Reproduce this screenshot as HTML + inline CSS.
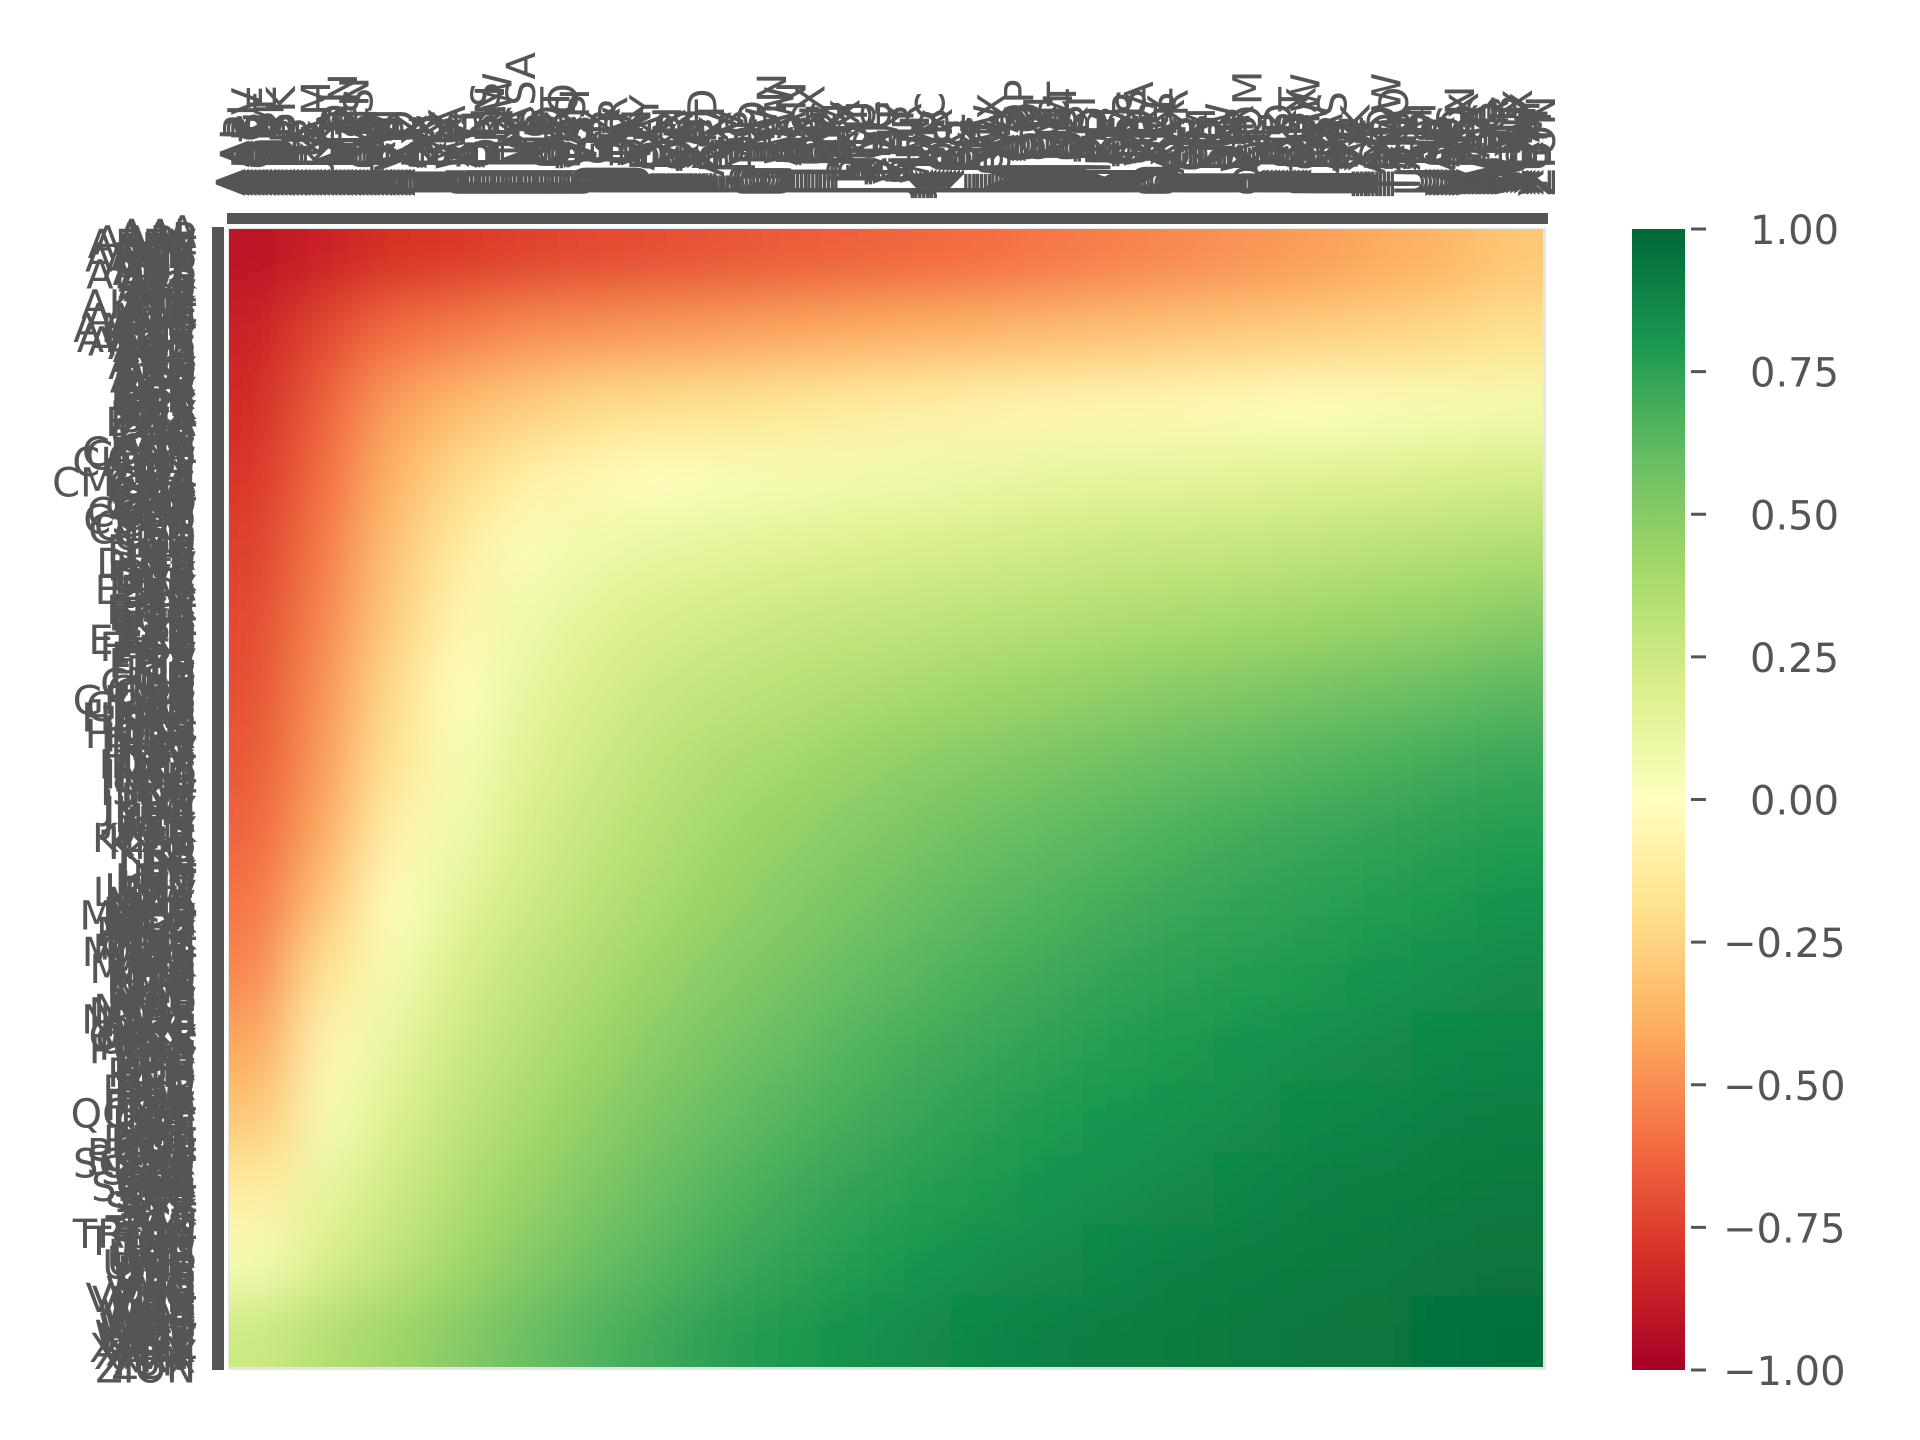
<!DOCTYPE html>
<html><head><meta charset="utf-8"><style>
html,body{margin:0;padding:0;background:#fff;}
svg{display:block;font-family:"DejaVu Sans","Liberation Sans",sans-serif;}
</style></head><body>
<svg id="chart" width="1920" height="1440" viewBox="0 0 1920 1440" xmlns="http://www.w3.org/2000/svg">
<defs>
<linearGradient id="cbgrad" x1="0" y1="1" x2="0" y2="0">
<stop offset="0" stop-color="#a50026"/><stop offset="0.1" stop-color="#d73027"/><stop offset="0.2" stop-color="#f46d43"/><stop offset="0.3" stop-color="#fdae61"/><stop offset="0.4" stop-color="#fee08b"/><stop offset="0.5" stop-color="#ffffbf"/><stop offset="0.6" stop-color="#d9ef8b"/><stop offset="0.7" stop-color="#a6d96a"/><stop offset="0.8" stop-color="#66bd63"/><stop offset="0.9" stop-color="#1a9850"/><stop offset="1" stop-color="#006837"/>
</linearGradient>
<clipPath id="hmclip"><rect x="229" y="229" width="1314" height="1138"/></clipPath>
<filter id="smooth" filterUnits="userSpaceOnUse" x="100" y="100" width="1600" height="1400"><feGaussianBlur stdDeviation="28"/></filter>
</defs>
<rect x="228" y="228" width="1318" height="1142" fill="#e6e6e6"/>
<g clip-path="url(#hmclip)"><g id="cells" filter="url(#smooth)"></g></g>
<rect x="227" y="213" width="1321" height="11" fill="#555"/>
<rect x="212" y="227" width="12" height="1143" fill="#555"/>
<g id="xlabels" fill="#555" font-size="40"></g>
<g id="ylabels" fill="#555" font-size="40"></g>
<rect x="1632" y="229" width="53" height="1141" fill="url(#cbgrad)"/>
<g id="cbticks" fill="#555" font-size="40"></g>
</svg>
<script>
const rowCount = 16;
const colCount = 20;
const values = [
[-0.9,-0.85,-0.8,-0.77,-0.74,-0.72,-0.7,-0.68,-0.66,-0.64,-0.62,-0.6,-0.57,-0.54,-0.51,-0.48,-0.45,-0.41,-0.37,-0.3],
[-0.85,-0.72,-0.6,-0.55,-0.5,-0.48,-0.46,-0.44,-0.42,-0.4,-0.38,-0.36,-0.34,-0.32,-0.3,-0.28,-0.26,-0.24,-0.22,-0.18],
[-0.82,-0.64,-0.45,-0.35,-0.28,-0.22,-0.2,-0.18,-0.15,-0.12,-0.1,-0.08,-0.06,-0.05,-0.04,-0.02,0,0.02,0.04,0.06],
[-0.78,-0.6,-0.38,-0.22,-0.1,-0.05,0,0.03,0.05,0.07,0.08,0.1,0.12,0.13,0.14,0.15,0.17,0.18,0.2,0.22],
[-0.75,-0.56,-0.32,-0.12,0.02,0.08,0.12,0.14,0.16,0.18,0.2,0.22,0.24,0.26,0.27,0.28,0.3,0.32,0.34,0.36],
[-0.72,-0.52,-0.28,-0.06,0.08,0.15,0.2,0.23,0.26,0.28,0.3,0.32,0.34,0.36,0.38,0.4,0.42,0.44,0.46,0.5],
[-0.7,-0.48,-0.22,0.0,0.12,0.2,0.26,0.3,0.33,0.36,0.39,0.42,0.44,0.47,0.5,0.52,0.55,0.57,0.6,0.63],
[-0.67,-0.45,-0.16,0.04,0.16,0.24,0.31,0.36,0.4,0.44,0.48,0.51,0.54,0.57,0.6,0.62,0.65,0.67,0.7,0.72],
[-0.63,-0.4,-0.08,0.08,0.2,0.28,0.35,0.41,0.46,0.5,0.54,0.58,0.61,0.64,0.67,0.7,0.72,0.74,0.76,0.78],
[-0.58,-0.3,0.0,0.14,0.24,0.32,0.39,0.45,0.5,0.55,0.59,0.63,0.66,0.69,0.72,0.74,0.76,0.78,0.8,0.82],
[-0.52,-0.15,0.06,0.2,0.3,0.37,0.44,0.5,0.55,0.6,0.64,0.68,0.71,0.74,0.76,0.78,0.8,0.82,0.84,0.86],
[-0.42,-0.05,0.12,0.25,0.34,0.42,0.49,0.55,0.6,0.65,0.69,0.72,0.75,0.78,0.8,0.82,0.84,0.86,0.87,0.88],
[-0.3,0.04,0.18,0.3,0.39,0.47,0.54,0.6,0.65,0.69,0.73,0.76,0.79,0.81,0.83,0.85,0.87,0.88,0.9,0.91],
[-0.12,0.12,0.24,0.35,0.44,0.52,0.59,0.65,0.7,0.74,0.77,0.8,0.82,0.84,0.86,0.88,0.9,0.91,0.92,0.93],
[0.05,0.2,0.3,0.41,0.5,0.58,0.64,0.7,0.74,0.78,0.81,0.84,0.86,0.88,0.9,0.91,0.92,0.93,0.94,0.95],
[0.25,0.35,0.42,0.5,0.58,0.65,0.71,0.76,0.8,0.83,0.86,0.88,0.9,0.91,0.92,0.93,0.94,0.95,0.96,0.97]
];
const tickers = ["A","AAL","AAP","AAPL","ABBV","ABC","ABT","ACN","ADBE","ADI","ADM","ADP","ADS","ADSK","AEE","AEP","AES","AFL","AIG","AIV","AIZ","AJG","AKAM","ALB","ALK","ALL","AMAT","AMD","AME","AMGN","AMP","AMT","AMZN","ANSS","AON","AOS","APA","APD","APH","ARE","ATVI","AVB","AVY","AXP","AZO","BA","BAC","BAX","BBY","BDX","BEN","BIIB","BK","BLK","BLL","BMY","BSX","BWA","BXP","C","CAG","CAH","CAT","CB","CCI","CCL","CDNS","CERN","CHD","CHRW","CI","CINF","CL","CLX","CMA","CMCSA","CME","CMI","CMS","CNC","CNP","COF","COO","COP","COST","CPB","CSCO","CSX","CTAS","CTSH","CVS","CVX","D","DD","DE","DGX","DHI","DHR","DIS","DLTR","DOV","DRI","DTE","DUK","DVA","DVN","EA","EBAY","ECL","ED","EFX","EIX","EL","EMN","EMR","EOG","EQR","ES","ESS","ETN","ETR","EXC","EXPD","F","FAST","FDX","FE","FFIV","FIS","FISV","FITB","FLS","FMC","GD","GE","GILD","GIS","GLW","GPC","GPS","GRMN","GS","GWW","HAL","HAS","HBAN","HD","HES","HIG","HOG","HOLX","HON","HPQ","HRL","HSIC","HST","HSY","HUM","IBM","IDXX","IFF","INCY","INTC","INTU","IP","IPG","IRM","ISRG","IT","ITW","IVZ","JBHT","JCI","JKHY","JNJ","JNPR","JPM","JWN","K","KEY","KIM","KLAC","KMB","KMX","KO","KR","KSS","L","LB","LEG","LEN","LH","LLY","LMT","LNC","LNT","LOW","LRCX","LUV","MA","MAA","MAR","MAS","MCD","MCHP","MCK","MCO","MDT","MET","MGM","MHK","MKC","MLM","MMC","MMM","MNST","MO","MOS","MRK","MS","MSFT","MSI","MTB","MTD","MU","NEE","NEM","NI","NKE","NOC","NOV","NSC","NTAP","NTRS","NUE","NVDA","NWL","O","OKE","OMC","ORCL","ORLY","OXY","PAYX","PCAR","PEG","PEP","PFE","PG","PGR","PH","PHM","PKG","PLD","PNC","PNR","PNW","PPG","PPL","PSA","PVH","PWR","PXD","QCOM","RCL","RE","REG","RF","RHI","RJF","RL","RMD","ROK","ROL","ROP","ROST","RSG","SBUX","SCHW","SEE","SHW","SJM","SLB","SLG","SNA","SNPS","SO","SPG","SRE","STT","STZ","SWK","SYK","SYY","T","TAP","TGT","TJX","TMO","TROW","TRV","TSCO","TSN","TXN","TXT","UDR","UHS","UNH","UNM","UNP","UPS","URI","USB","VAR","VFC","VLO","VMC","VNO","VRSN","VRTX","VTR","VZ","WAT","WBA","WDC","WEC","WFC","WHR","WM","WMB","WMT","WY","XEL","XLNX","XOM","XRAY","XRX","YUM","ZBH","ZION"];
const cbTicks = [-1,-0.75,-0.5,-0.25,0,0.25,0.5,0.75,1];
const cbLabels = ["\u22121.00","\u22120.75","\u22120.50","\u22120.25","0.00","0.25","0.50","0.75","1.00"];

const NS="http://www.w3.org/2000/svg";
const hm={x:229,y:229,w:1314,h:1138};
const xPos=c=>hm.x+c*hm.w/colCount;
const yPos=r=>hm.y+r*hm.h/rowCount;
const stops=["#a50026","#d73027","#f46d43","#fdae61","#fee08b","#ffffbf","#d9ef8b","#a6d96a","#66bd63","#1a9850","#006837"];
function hex(h){return [parseInt(h.substr(1,2),16),parseInt(h.substr(3,2),16),parseInt(h.substr(5,2),16)];}
function cmap(v){let t=(Math.max(-1,Math.min(1,v))+1)/2*10;let i=Math.min(9,Math.floor(t));let f=t-i;let a=hex(stops[i]),b=hex(stops[i+1]);return "rgb("+a.map((x,k)=>Math.round(x+(b[k]-x)*f)).join(",")+")";}
const cells=document.getElementById('cells');
const pad=100;
values.forEach((row,r)=>row.forEach((v,c)=>{
  const el=document.createElementNS(NS,'rect');
  
  
  let x0=xPos(c)-0.5,x1=xPos(c+1)+0.5,y0=yPos(r)-0.5,y1=yPos(r+1)+0.5;
  if(c===0)x0-=pad; if(c===colCount-1)x1+=pad;
  if(r===0)y0-=pad; if(r===rowCount-1)y1+=pad;
  el.setAttribute('x',x0);el.setAttribute('y',y0);
  el.setAttribute('width',x1-x0);el.setAttribute('height',y1-y0);
  el.setAttribute('fill',cmap(v));
  cells.appendChild(el);
}));
const xl=document.getElementById('xlabels'),yl=document.getElementById('ylabels');
const n=tickers.length;
tickers.forEach((t,i)=>{
  const cx=hm.x+(i+0.5)*hm.w/n;
  const el=document.createElementNS(NS,'text');
  
  
  el.setAttribute('transform','translate('+(cx+14)+',196) rotate(-90)');
  el.textContent=t;xl.appendChild(el);
  const cy=hm.y+(i+0.5)*(1141)/n;
  const e2=document.createElementNS(NS,'text');
  
  
  e2.setAttribute('x',196);e2.setAttribute('y',cy+14);e2.setAttribute('text-anchor','end');
  e2.textContent=t;yl.appendChild(e2);
});
const cb=document.getElementById('cbticks');
cbTicks.forEach((v,i)=>{
  const y=1370-(v+1)/2*1141;
  const ln=document.createElementNS(NS,'rect');
  
  
  ln.setAttribute('x',1691);ln.setAttribute('y',y-1.5);ln.setAttribute('width',15);ln.setAttribute('height',3);
  cb.appendChild(ln);
  const tx=document.createElementNS(NS,'text');
  
  
  tx.setAttribute('x',v<0?1723:1750);tx.setAttribute('y',y+15);
  tx.textContent=cbLabels[i];cb.appendChild(tx);
});
</script>
</body></html>
